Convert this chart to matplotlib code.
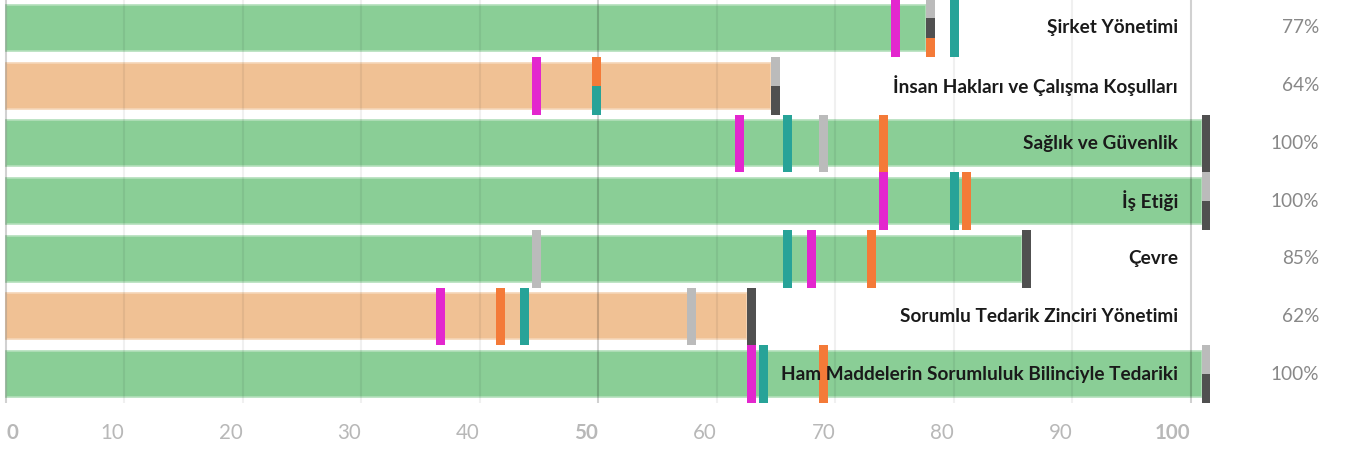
import matplotlib
matplotlib.use("Agg")
import matplotlib.pyplot as plt

plt.rcParams['font.family'] = ['Lato', 'DejaVu Sans']

# data
categories = [
    "Şirket Yönetimi",
    "İnsan Hakları ve Çalışma Koşulları",
    "Sağlık ve Güvenlik",
    "İş Etiği",
    "Çevre",
    "Sorumlu Tedarik Zinciri Yönetimi",
    "Ham Maddelerin Sorumluluk Bilinciyle Tedariki",
]
scores = [77, 64, 100, 100, 85, 62, 100]

# comparison markers (one value per category)
marker_gray = [77, 64, 68, 100, 44, 57, 100]
marker_dark = [77, 64, 100, 100, 85, 62, 100]
marker_orange = [77, 49, 73, 80, 72, 41, 68]
marker_teal = [79, 49, 65, 79, 65, 43, 63]
marker_magenta = [74, 44, 61, 73, 67, 36, 62]

ticks = [0, 10, 20, 30, 40, 50, 60, 70, 80, 90, 100]

# styles
GREEN = "#8ace96"
ORANGE_BAR = "#f0c194"
marker_series = [
    (marker_gray, "#bbbbbb"),
    (marker_dark, "#505050"),
    (marker_orange, "#f47a38"),
    (marker_teal, "#27a398"),
    (marker_magenta, "#e327ce"),
]
GRID_SCALE = 0.991   # grid sits slightly left of the bar scale in the original
MARK_W = 0.75

fig = plt.figure(figsize=(13.46, 4.53), dpi=100)
ax = fig.add_axes([0, 50 / 453, 1, 403 / 453])
ax.set_xlim(-5.5 / 11.96, (1346 - 5.5) / 11.96)
ax.set_ylim(6.5025, -0.4855)
ax.axis("off")

rows = list(range(len(categories)))

# bars
bar_colors = [GREEN if s >= 70 else ORANGE_BAR for s in scores]
edge_colors = ["#b3dfbb" if s >= 70 else "#f5d6b8" for s in scores]
ax.barh(rows, scores, height=0.8, color=bar_colors, edgecolor=edge_colors,
        linewidth=1.2, zorder=1)

# grid lines
for t in ticks:
    strong = t in (0, 50, 100)
    ax.vlines(t * GRID_SCALE, -0.5, 6.5, color="black",
              alpha=0.18 if strong else 0.06, linewidth=1.5, zorder=2)

# markers, stacked when several share a value
for i in rows:
    groups = {}
    for vals, col in marker_series:
        groups.setdefault(vals[i], []).append(col)
    for v, cols in groups.items():
        n = len(cols)
        for k, col in enumerate(cols):
            top = i - 0.5 + k / n
            ax.bar(v, 1 / n, bottom=top, width=MARK_W, align="edge",
                   color=col, linewidth=0, zorder=3)

# labels
for i, (name, s) in enumerate(zip(categories, scores)):
    ax.text((1178 - 5.5) / 11.96, i, name, ha="right", va="center",
            fontsize=13.7, fontweight="bold", color="#1a1a1a", zorder=4)
    ax.text((1319 - 5.5) / 11.96, i, f"{s}%", ha="right", va="center",
            fontsize=13.7, color="#888888", zorder=4)

# axis labels
xtr = ax.get_xaxis_transform()
for t in ticks:
    strong = t in (0, 50, 100)
    ax.text(t * GRID_SCALE + (0.05 if t == 0 else 0), -0.0744, str(t),
            transform=xtr, ha="left" if t == 0 else "right", va="center",
            fontsize=14.8, fontweight="bold" if strong else "normal",
            color="#b8b8b8", clip_on=False)

fig.savefig("out.png", dpi=100)
